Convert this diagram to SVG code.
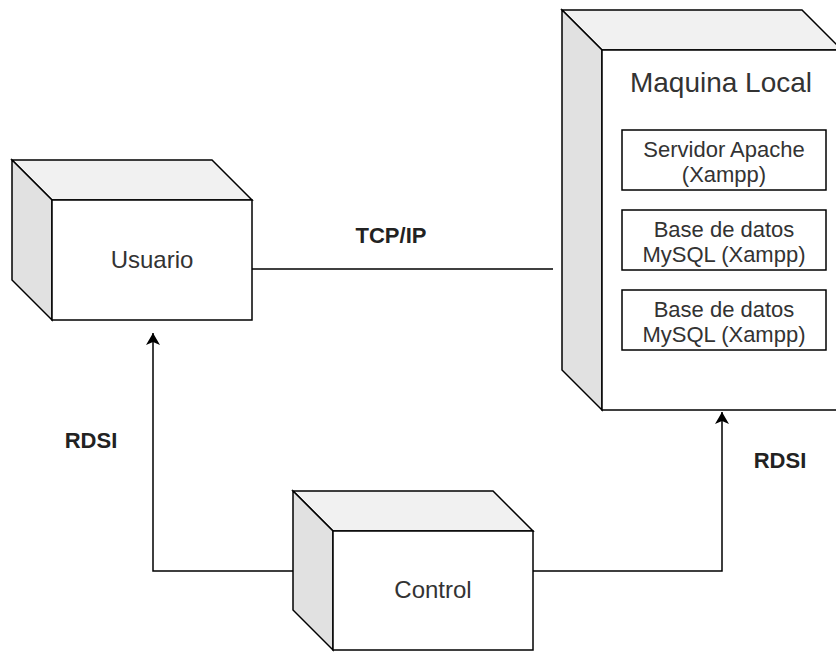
<svg xmlns="http://www.w3.org/2000/svg" width="836" height="652" viewBox="0 0 836 652">
<defs>
<style>
.top{fill:#f1f1f1;stroke:#000;stroke-width:1.5;stroke-linejoin:miter}
.side{fill:#e1e1e1;stroke:#000;stroke-width:1.5}
.front{fill:#fff;stroke:#000;stroke-width:1.5}
.inner{fill:#fff;stroke:#000;stroke-width:1.5}
.lbl{font-family:"Liberation Sans",Arial,sans-serif;fill:#333;text-anchor:middle}
.bold{font-family:"Liberation Sans",Arial,sans-serif;fill:#222;font-weight:bold;text-anchor:middle;font-size:22px}
.conn{fill:none;stroke:#000;stroke-width:1.5}
</style>
<marker id="arr" viewBox="0 0 12 14" refX="12" refY="7" markerWidth="12" markerHeight="14" markerUnits="userSpaceOnUse" orient="auto">
<path d="M0,0 L12,7 L0,14 L3,7 Z" fill="#000"/>
</marker>
</defs>
<rect width="836" height="652" fill="#fff"/>

<g id="usuario">
<polygon class="top" points="12,160 212,160 252,200 52,200"/>
<polygon class="side" points="12,160 52,200 52,320 12,280"/>
<rect class="front" x="52" y="200" width="200" height="120"/>
<text class="lbl" x="152" y="268" font-size="24">Usuario</text>
</g>

<g id="maquina-local">
<polygon class="top" points="562,10 802,10 842,50 602,50"/>
<polygon class="side" points="562,10 602,50 602,410 562,370"/>
<rect class="front" x="602" y="50" width="240" height="360"/>
<text class="lbl" x="721" y="92" font-size="28">Maquina Local</text>
</g>

<g id="servidor-apache">
<rect class="inner" x="622" y="130" width="204" height="60"/>
<text class="lbl" x="724" y="157" font-size="22">Servidor Apache</text>
<text class="lbl" x="724" y="182" font-size="22">(Xampp)</text>
</g>

<g id="mysql-1">
<rect class="inner" x="622" y="210" width="204" height="60"/>
<text class="lbl" x="724" y="237" font-size="22">Base de datos</text>
<text class="lbl" x="724" y="262" font-size="22">MySQL (Xampp)</text>
</g>

<g id="mysql-2">
<rect class="inner" x="622" y="290" width="204" height="60"/>
<text class="lbl" x="724" y="317" font-size="22">Base de datos</text>
<text class="lbl" x="724" y="342" font-size="22">MySQL (Xampp)</text>
</g>

<g id="control">
<polygon class="top" points="293,491 493,491 533,531 333,531"/>
<polygon class="side" points="293,491 333,531 333,650 293,610"/>
<rect class="front" x="333" y="531" width="200" height="119"/>
<text class="lbl" x="433" y="598" font-size="24">Control</text>
</g>

<g id="connectors">
<path class="conn" d="M252,269 L553,269"/>
<path class="conn" d="M293,571 L153,571 L153,333" marker-end="url(#arr)"/>
<path class="conn" d="M533,571 L722,571 L722,412" marker-end="url(#arr)"/>
<text class="bold" x="391" y="243">TCP/IP</text>
<text class="bold" x="91" y="448">RDSI</text>
<text class="bold" x="780" y="468">RDSI</text>
</g>
</svg>
